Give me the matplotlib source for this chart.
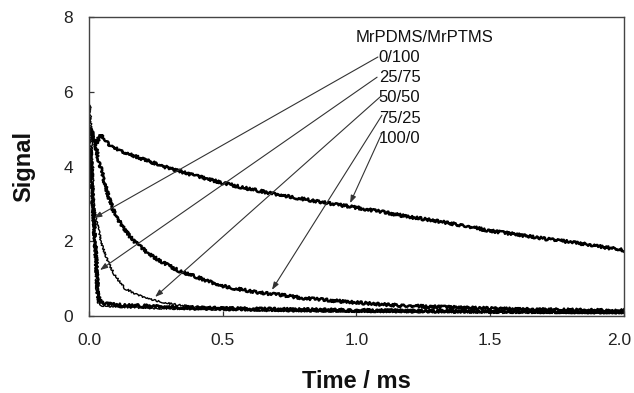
import matplotlib
matplotlib.use("Agg")
import matplotlib.pyplot as plt
import matplotlib.transforms as mtransforms

plt.rcParams['font.family'] = ['Liberation Sans', 'DejaVu Sans']

# ---- data (time in ms, signal) ----
t_100_0 = [0.0, 0.008, 0.018, 0.028, 0.036, 0.046, 0.064, 0.082, 0.113, 0.15, 0.2, 0.25, 0.3,
           0.4, 0.5, 0.6, 0.7, 0.8, 0.9, 1.0, 1.1, 1.2, 1.3, 1.4, 1.5, 1.6, 1.7, 1.8, 1.9, 2.0]
s_100_0 = [5.0, 4.98, 4.8, 4.62, 4.75, 4.85, 4.7, 4.53, 4.44, 4.33, 4.2, 4.08, 3.95,
           3.75, 3.56, 3.4, 3.26, 3.13, 3.01, 2.9, 2.78, 2.65, 2.54, 2.42, 2.28, 2.18, 2.07, 1.98, 1.87, 1.76]

t_75_25 = [0.0, 0.008, 0.02, 0.035, 0.05, 0.071, 0.09, 0.121, 0.15, 0.171, 0.22, 0.26, 0.295,
           0.34, 0.4, 0.49, 0.55, 0.64, 0.71, 0.8, 0.9, 1.0, 1.09, 1.2, 1.4, 1.6, 1.8, 2.0]
s_75_25 = [5.0, 4.95, 4.7, 4.2, 3.8, 3.23, 2.85, 2.43, 2.15, 1.99, 1.68, 1.5, 1.36,
           1.2, 1.05, 0.82, 0.73, 0.62, 0.57, 0.48, 0.42, 0.36, 0.31, 0.27, 0.22, 0.18, 0.16, 0.14]

t_50_50 = [0.0, 0.004, 0.01, 0.019, 0.026, 0.032, 0.046, 0.071, 0.096, 0.133, 0.183, 0.245,
           0.295, 0.35, 0.42, 0.5, 0.6, 0.8, 1.0, 1.3, 1.6, 2.0]
s_50_50 = [5.6, 5.65, 4.65, 2.9, 2.6, 2.45, 1.95, 1.45, 1.1, 0.74, 0.56, 0.42,
           0.34, 0.28, 0.23, 0.19, 0.16, 0.13, 0.12, 0.1, 0.09, 0.08]

t_25_75 = [0.0, 0.006, 0.013, 0.02, 0.027, 0.033, 0.04, 0.05, 0.07, 0.1, 0.15, 0.2, 0.3,
           0.4, 0.5, 0.7, 1.0, 1.3, 1.6, 2.0]
s_25_75 = [4.45, 4.4, 3.2, 2.3, 1.45, 0.56, 0.42, 0.36, 0.32, 0.3, 0.28, 0.27, 0.24,
           0.22, 0.2, 0.18, 0.15, 0.13, 0.12, 0.11]

t_0_100 = [0.0, 0.005, 0.01, 0.016, 0.022, 0.028, 0.035, 0.05, 0.1, 0.2, 0.4, 0.7, 1.0, 1.5, 2.0]
s_0_100 = [4.9, 4.8, 3.3, 2.5, 1.6, 0.7, 0.35, 0.28, 0.25, 0.22, 0.18, 0.14, 0.12, 0.1, 0.08]

labels = ["0/100", "25/75", "50/50", "75/25", "100/0"]
legend_title = "MrPDMS/MrPTMS"
# arrow tips (curve points the labels refer to)
arrow_tips_t = [0.019, 0.041, 0.247, 0.684, 0.976]
arrow_tips_s = [2.62, 1.23, 0.51, 0.70, 3.02]

x_ticks = [0.0, 0.5, 1.0, 1.5, 2.0]
x_ticklabels = ["0.0", "0.5", "1.0", "1.5", "2.0"]
y_ticks = [0, 2, 4, 6, 8]

# ---- figure ----
fig = plt.figure(figsize=(6.34, 3.93), dpi=100)
ax = fig.add_axes([0.1404, 0.1959, 0.8438, 0.7608])

series = [
    (t_100_0, s_100_0, 1.8, 1.4),
    (t_75_25, s_75_25, 1.8, 1.4),
    (t_50_50, s_50_50, 1.0, 0.9),
    (t_25_75, s_25_75, 1.9, 1.4),
    (t_0_100, s_0_100, 1.0, 0.9),
]
for t, s, lw, sc in series:
    ln, = ax.plot(t, s, color='black', lw=lw, solid_joinstyle='round')
    ln.set_sketch_params(scale=sc, length=1.2, randomness=2.5)

ax.set_xlim(0, 2.0)
ax.set_ylim(0, 8)
ax.set_xticks(x_ticks)
ax.set_xticklabels(x_ticklabels)
ax.set_yticks(y_ticks)
ax.tick_params(direction='in', length=3.5, width=0.9, colors='#333333',
               labelcolor='#222222', labelsize=12.5)
ax.tick_params(axis='y', pad=11.5)
ax.tick_params(axis='x', pad=12)
for sp in ax.spines.values():
    sp.set_color('#444444')
    sp.set_linewidth(1.0)

# keep the last x tick label inside the canvas
last = ax.get_xticklabels()[-1]
last.set_transform(last.get_transform() +
                   mtransforms.ScaledTranslation(-5 / 100, 0, fig.dpi_scale_trans))

ax.set_xlabel("Time / ms", fontsize=17, fontweight='bold', labelpad=16, color='#111111')
ax.set_ylabel("Signal", fontsize=17, fontweight='bold', labelpad=20, color='#111111')

# legend-like annotation
ax.text(1.254, 7.46, legend_title, fontsize=12, ha='center', va='center', color='#111111')
label_y = [6.925, 6.38, 5.84, 5.29, 4.75]
start_pts = [(1.080, 6.93), (1.077, 6.39), (1.088, 5.86), (1.095, 5.37), (1.095, 4.89)]
for lab, ly, (sx, sy), tx, ty in zip(labels, label_y, start_pts, arrow_tips_t, arrow_tips_s):
    ax.text(1.083, ly, lab, fontsize=12, ha='left', va='center', color='#111111')
    ax.annotate('', xy=(tx, ty), xytext=(sx, sy),
                arrowprops=dict(arrowstyle='-|>,head_length=0.45,head_width=0.16',
                                color='#333333', lw=0.8, shrinkA=0, shrinkB=0))

fig.savefig("out.png", dpi=100)
